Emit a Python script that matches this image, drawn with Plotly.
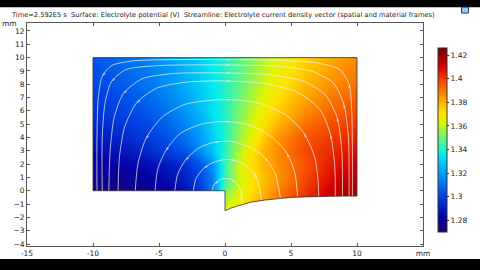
import plotly.graph_objects as go

# ---------------- data ----------------
xs = [-10, -8, -6, -4, -3, -2, -1, 0, 1, 2, 3, 4, 6, 8, 10]
ys = [-1.5, -1, -0.5, 0, 0.5, 1, 2, 3, 4, 6, 8, 10]
left_y0 = [1.275, 1.276, 1.278, 1.283, 1.288, 1.296, 1.310]
pot = [
    left_y0 + [1.364, 1.371, 1.380, 1.387, 1.394, 1.405, 1.415, 1.421],
    left_y0 + [1.360, 1.368, 1.377, 1.385, 1.392, 1.404, 1.414, 1.421],
    left_y0 + [1.355, 1.365, 1.374, 1.382, 1.390, 1.402, 1.413, 1.421],
    [1.275, 1.276, 1.278, 1.283, 1.288, 1.296, 1.310, 1.350, 1.362, 1.371, 1.380, 1.388, 1.400, 1.412, 1.420],
    [1.276, 1.277, 1.279, 1.285, 1.290, 1.299, 1.313, 1.345, 1.360, 1.370, 1.379, 1.386, 1.398, 1.410, 1.418],
    [1.278, 1.279, 1.282, 1.287, 1.292, 1.300, 1.314, 1.344, 1.360, 1.370, 1.378, 1.385, 1.397, 1.408, 1.416],
    [1.281, 1.283, 1.286, 1.291, 1.296, 1.303, 1.317, 1.343, 1.360, 1.372, 1.380, 1.386, 1.395, 1.405, 1.412],
    [1.285, 1.288, 1.293, 1.300, 1.305, 1.315, 1.327, 1.342, 1.357, 1.370, 1.380, 1.387, 1.397, 1.403, 1.408],
    [1.289, 1.293, 1.298, 1.305, 1.311, 1.319, 1.329, 1.341, 1.354, 1.365, 1.376, 1.385, 1.395, 1.400, 1.404],
    [1.296, 1.300, 1.305, 1.313, 1.319, 1.325, 1.333, 1.341, 1.351, 1.360, 1.368, 1.375, 1.386, 1.393, 1.397],
    [1.301, 1.305, 1.311, 1.318, 1.324, 1.329, 1.335, 1.341, 1.348, 1.355, 1.362, 1.368, 1.378, 1.386, 1.391],
    [1.305, 1.309, 1.314, 1.321, 1.325, 1.330, 1.335, 1.341, 1.347, 1.353, 1.359, 1.364, 1.373, 1.381, 1.387],
]

# bottom (anode) boundary curve, x from 0 to 10
curve_x = [0, 0.5, 1, 2, 3, 4, 5, 6, 7, 8, 9, 10]
curve_y = [-1.5, -1.28, -1.1, -0.85, -0.7, -0.58, -0.5, -0.46, -0.43, -0.41, -0.4, -0.4]

# streamlines (read left -> right)
streams = [
    [(-9.7, 0), (-9.7, 4), (-9.6, 7), (-9.3, 8.6), (-8.6, 9.4), (-7, 9.75), (-4, 9.85), (0, 9.85),
     (4, 9.8), (7, 9.6), (8.7, 9.1), (9.4, 8), (9.6, 6), (9.65, 3), (9.65, -0.4)],
    [(-9.3, 0), (-9.3, 4), (-9.1, 6.5), (-8.6, 8.2), (-7.5, 9.1), (-5, 9.4), (0, 9.45), (4, 9.35),
     (6.5, 9), (8.2, 8.1), (9, 6.5), (9.35, 4), (9.4, 1.5), (9.4, -0.4)],
    [(-8.8, 0), (-8.7, 3), (-8.4, 5.5), (-7.7, 7.3), (-6.3, 8.4), (-4, 8.8), (0, 8.85), (3.5, 8.7),
     (6, 8.2), (7.6, 7.2), (8.5, 5.5), (8.85, 3), (8.9, 1.2), (8.9, -0.41)],
    [(-8.1, 0), (-8, 2.5), (-7.6, 4.8), (-6.7, 6.6), (-5.2, 7.7), (-3, 8.15), (0, 8.25), (3, 8.05),
     (5.5, 7.4), (7.2, 6.1), (8, 4.2), (8.3, 2), (8.35, 0.8), (8.35, -0.41)],
    [(-6.8, 0), (-6.6, 2), (-6, 3.9), (-4.8, 5.5), (-3, 6.5), (0, 6.85), (2.5, 6.6), (4.6, 5.7),
     (6, 4.3), (6.8, 2.5), (7.05, 0.8), (7.1, -0.43)],
    [(-5.3, 0), (-5.1, 1.6), (-4.5, 3), (-3.4, 4.3), (-1.8, 5), (0, 5.2), (2, 4.9), (3.6, 4),
     (4.7, 2.8), (5.3, 1.3), (5.5, -0.49)],
    [(-3.8, 0), (-3.6, 1.2), (-3, 2.3), (-2, 3.2), (-0.8, 3.65), (0.5, 3.7), (1.8, 3.3), (3, 2.5),
     (3.8, 1.3), (4.2, -0.56)],
    [(-2.4, 0), (-2.2, 0.9), (-1.6, 1.7), (-0.7, 2.2), (0.4, 2.35), (1.4, 2.0), (2.2, 1.3),
     (2.6, 0.3), (2.75, -0.73)],
    [(-1, 0), (-0.8, 0.5), (-0.2, 0.9), (0.5, 0.85), (1.0, 0.4), (1.25, -0.3), (1.3, -1.04)],
]

cbar_vals = [1.28, 1.30, 1.32, 1.34, 1.36, 1.38, 1.40, 1.42]
cbar_text = ["1.28", "1.3", "1.32", "1.34", "1.36", "1.38", "1.4", "1.42"]
x_tickvals = [-15, -10, -5, 0, 5, 10, 15]
x_ticktext = ["-15", "-10", "-5", "0", "5", "10", "mm"]
y_tickvals = list(range(-4, 13))

title = ("Time=2.592E5 s  Surface: Electrolyte potential (V)  "
         "Streamline: Electrolyte current density vector (spatial and material frames)")

rainbow = [
    [0.0, "rgb(25,10,105)"], [0.08, "rgb(5,0,165)"], [0.2, "rgb(0,70,230)"],
    [0.33, "rgb(0,165,250)"], [0.42, "rgb(0,235,240)"], [0.5, "rgb(90,245,140)"],
    [0.6, "rgb(225,245,0)"], [0.65, "rgb(255,225,0)"], [0.72, "rgb(255,165,0)"],
    [0.82, "rgb(245,70,0)"], [0.9, "rgb(215,0,0)"], [1.0, "rgb(120,0,0)"],
]

fig = go.Figure()
fig.add_trace(go.Heatmap(
    x=xs, y=ys, z=pot, zsmooth="best", colorscale=rainbow, zmin=1.270, zmax=1.426,
    colorbar=dict(
        x=(443 - 27) / 401, xanchor="left", xpad=0, y=(248 - 141.2) / 225, yanchor="middle",
        lenmode="pixels", len=204, thickness=9, outlinewidth=1, outlinecolor="#333",
        tickvals=cbar_vals, ticktext=cbar_text, ticks="outside", ticklen=2,
        tickcolor="#333", tickfont=dict(size=7.5, color="#222", family="DejaVu Sans"),
    ),
    hoverinfo="skip",
))

W = "white"
# masks outside the domain
def mask(px, py):
    fig.add_trace(go.Scatter(x=px, y=py, fill="toself", fillcolor=W, mode="lines",
                             line=dict(width=0, color=W), hoverinfo="skip", showlegend=False))

mask([-12, -10, -10, -12], [-3, -3, 12, 12])
mask([10, 12, 12, 10], [-3, -3, 12, 12])
mask([-12, 12, 12, -12], [10, 10, 12, 12])
mask([-12, 0] + curve_x + [12, 12, -12], [0, 0] + curve_y + [curve_y[-1], -3, -3])

# streamlines, drawn from anode (right) to cathode (left)
for s in streams:
    pts = s[::-1]
    n = len(pts)
    sizes = [0] * n
    for k in (n // 4, n // 2, (3 * n) // 4):
        if 0 < k < n - 1:
            sizes[k] = 4
    fig.add_trace(go.Scatter(
        x=[p[0] for p in pts], y=[p[1] for p in pts], mode="lines+markers",
        line=dict(color="rgba(240,240,240,0.8)", width=0.9, shape="spline", smoothing=0.7),
        marker=dict(symbol="arrow", angleref="previous", size=sizes,
                    color="rgba(240,240,240,0.85)", line=dict(width=0)),
        hoverinfo="skip", showlegend=False))

# domain outline
ox = [-10, -10, 10] + curve_x[::-1] + [0, -10]
oy = [0, 10, 10] + curve_y[::-1] + [0, 0]
fig.add_trace(go.Scatter(x=ox, y=oy, mode="lines", line=dict(color="#333", width=0.8),
                         hoverinfo="skip", showlegend=False))

axis_common = dict(showline=True, linecolor="#555", linewidth=1, mirror="ticks",
                   ticks="inside", ticklen=3, tickcolor="#555", showgrid=False,
                   zeroline=False, tickfont=dict(size=7.5, color="#222", family="DejaVu Sans"))
fig.update_xaxes(range=[-15, 15], tickvals=x_tickvals, ticktext=x_ticktext, **axis_common)
fig.update_yaxes(range=[-4.15, 12.6], tickvals=y_tickvals, **axis_common)

shapes = [
    dict(type="rect", xref="paper", yref="paper", x0=-0.2, x1=1.3, y0=(248 - 7) / 225, y1=1.3,
         fillcolor="black", line=dict(width=0), layer="above"),
    dict(type="rect", xref="paper", yref="paper", x0=-0.2, x1=1.3, y0=-0.3, y1=(248 - 261) / 225,
         fillcolor="black", line=dict(width=0), layer="above"),
    dict(type="rect", xref="paper", yref="paper", x0=(467 - 27) / 401, x1=(474 - 27) / 401,
         y0=(248 - 13) / 225, y1=(248 - 7) / 225, fillcolor="#9cc8f0",
         line=dict(width=1, color="#1a3a7a"), layer="above"),
]

fig.update_layout(
    width=480, height=270, margin=dict(l=27, r=52, t=23, b=22),
    paper_bgcolor="white", plot_bgcolor="white", showlegend=False, shapes=shapes,
    font=dict(family="DejaVu Sans", size=7.5, color="#222"),
    annotations=[
        dict(text=title, xref="paper", yref="paper", x=(9 - 27) / 401, y=(248 - 14.5) / 225,
             xanchor="left", yanchor="middle", showarrow=False,
             font=dict(size=6.65, color="#222", family="DejaVu Sans")),
        dict(text="mm", xref="paper", yref="paper", x=(0 - 27) / 401, y=(248 - 23) / 225,
             xanchor="left", yanchor="middle", showarrow=False,
             font=dict(size=7.5, color="#222", family="DejaVu Sans")),
    ],
)

fig.write_html("out.html")
